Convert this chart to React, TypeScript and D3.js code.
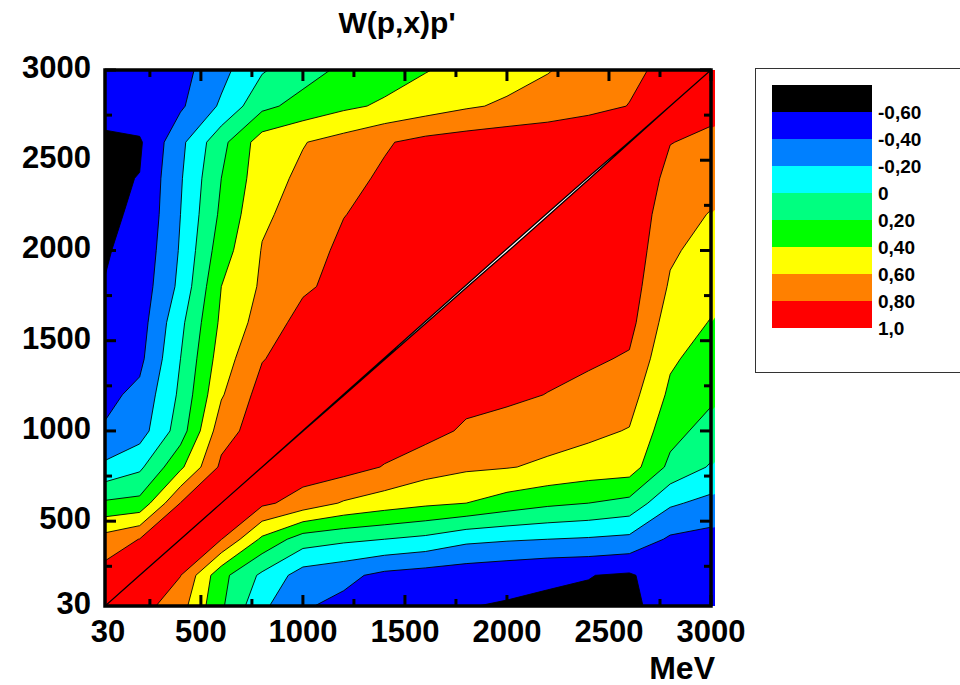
import React from "react";
import * as d3 from "d3";

// Momentum nodes (MeV) shared by both axes: p horizontally, p' vertically
const P_NODES = [30, 200, 400, 600, 800, 1000, 1200, 1400, 1600, 1800, 2000, 2200, 2400, 2600, 2800, 3000];

// W(p,x)p' on the node grid; row k is p' = P_NODES[k], column i is p = P_NODES[i]
const W_GRID: number[][] = [
  [1.0, 0.88, 0.68, 0.23, -0.16, -0.38, -0.45, -0.51, -0.55, -0.595, -0.612, -0.619, -0.629, -0.64, -0.52, -0.55],
  [0.88, 1.0, 0.805, 0.26, -0.04, -0.29, -0.35, -0.45, -0.49, -0.52, -0.55, -0.583, -0.595, -0.625, -0.47, -0.52],
  [0.68, 0.805, 1.0, 0.805, 0.36, 0.10, 0.04, 0.0, -0.05, -0.15, -0.18, -0.20, -0.22, -0.25, -0.43, -0.47],
  [0.23, 0.26, 0.805, 1.0, 0.84, 0.72, 0.58, 0.50, 0.44, 0.40, 0.31, 0.24, 0.20, 0.14, -0.17, -0.26],
  [-0.16, -0.04, 0.36, 0.84, 1.0, 0.90, 0.88, 0.79, 0.685, 0.63, 0.61, 0.57, 0.52, 0.50, 0.15, -0.02],
  [-0.38, -0.29, 0.10, 0.72, 0.90, 1.0003, 0.95, 0.90, 0.87, 0.77, 0.72, 0.67, 0.64, 0.59, 0.27, 0.12],
  [-0.45, -0.35, 0.04, 0.58, 0.88, 0.95, 1.0005, 0.96, 0.92, 0.86, 0.84, 0.795, 0.74, 0.68, 0.36, 0.24],
  [-0.51, -0.45, 0.0, 0.50, 0.79, 0.90, 0.96, 1.0007, 0.96, 0.91, 0.89, 0.86, 0.83, 0.78, 0.43, 0.31],
  [-0.55, -0.49, -0.05, 0.44, 0.685, 0.87, 0.92, 0.96, 1.001, 0.95, 0.93, 0.90, 0.88, 0.86, 0.50, 0.39],
  [-0.595, -0.52, -0.15, 0.40, 0.63, 0.77, 0.86, 0.91, 0.95, 1.0012, 0.96, 0.94, 0.92, 0.90, 0.575, 0.46],
  [-0.612, -0.55, -0.18, 0.31, 0.61, 0.72, 0.84, 0.89, 0.93, 0.96, 1.0015, 0.97, 0.95, 0.93, 0.63, 0.52],
  [-0.619, -0.583, -0.20, 0.24, 0.57, 0.67, 0.795, 0.86, 0.90, 0.94, 0.97, 1.0015, 0.97, 0.95, 0.68, 0.59],
  [-0.629, -0.595, -0.22, 0.20, 0.52, 0.64, 0.74, 0.83, 0.88, 0.92, 0.95, 0.97, 1.0012, 0.975, 0.74, 0.67],
  [-0.64, -0.625, -0.25, 0.14, 0.50, 0.59, 0.68, 0.78, 0.86, 0.90, 0.93, 0.95, 0.975, 1.0005, 0.805, 0.76],
  [-0.52, -0.47, -0.43, -0.17, 0.15, 0.27, 0.36, 0.43, 0.50, 0.575, 0.63, 0.68, 0.74, 0.805, 1.0, 0.85],
  [-0.55, -0.52, -0.47, -0.26, -0.02, 0.12, 0.24, 0.31, 0.39, 0.46, 0.52, 0.59, 0.67, 0.76, 0.85, 1.0],
];

// Contour levels; the band below the first level is the lowest colour
const LEVELS = [-0.6, -0.4, -0.2, 0, 0.2, 0.4, 0.6, 0.8];
const RIDGE_LEVEL = 1.0;
const BAND_COLORS = ["#000000", "#0000ff", "#0080ff", "#00ffff", "#00ff80", "#00ff00", "#ffff00", "#ff8000", "#ff0000"];
const LEGEND_LABELS = ["-0,60", "-0,40", "-0,20", "0", "0,20", "0,40", "0,60", "0,80", "1,0"];

const LABEL_TICKS = [30, 500, 1000, 1500, 2000, 2500, 3000];
const MAJOR_TICKS = [500, 1000, 1500, 2000, 2500, 3000];
const MINOR_TICKS = [250, 750, 1250, 1750, 2250, 2750];

const FONT = "'Liberation Sans', Arial, Helvetica, sans-serif";

export default function App() {
  const W = 960;
  const H = 685;
  const box = { left: 105, right: 711, top: 70, bottom: 606 };

  const x = d3.scaleLinear().domain([30, 3000]).range([box.left, box.right]);
  const y = d3.scaleLinear().domain([30, 3000]).range([box.bottom, box.top]);

  const n = P_NODES.length;
  // grid index -> MeV (piecewise linear over the node positions)
  const nodeToMev = d3.scaleLinear().domain(d3.range(n)).range(P_NODES).clamp(true);
  const proj = d3.geoTransform({
    point(cx: number, cy: number) {
      // @ts-ignore
      this.stream.point(x(nodeToMev(cx - 0.5)), y(nodeToMev(cy - 0.5)));
    },
  });
  const geo = d3.geoPath(proj);
  const bands = d3.contours().size([n, n]).thresholds(LEVELS)(W_GRID.flat());
  const bandPaths = bands.map((b) => geo(b as any) || "");

  // ridge along p = p': white where the value exceeds 1.0, outlined in black
  const ridgePts = P_NODES.map((v, i) => ({
    px: x(v),
    py: y(v),
    e: Math.max(0, W_GRID[i][i] - RIDGE_LEVEL),
  }));
  const ddx = ridgePts[n - 1].px - ridgePts[0].px;
  const ddy = ridgePts[n - 1].py - ridgePts[0].py;
  const len = Math.hypot(ddx, ddy);
  const nx = -ddy / len;
  const ny = ddx / len;
  const widthScale = 850;
  const sideA = ridgePts.map((p) => [p.px + nx * p.e * widthScale, p.py + ny * p.e * widthScale] as [number, number]);
  const sideB = ridgePts
    .map((p) => [p.px - nx * p.e * widthScale, p.py - ny * p.e * widthScale] as [number, number])
    .reverse();
  const ridgePath = (d3.line()([...sideA, ...sideB]) || "") + "Z";

  const legendX = 772;
  const legendY = 85;
  const swH = 27;
  const plotW = box.right - box.left;
  const plotH = box.bottom - box.top;

  const fills = (prefix: string) => (
    <>
      <rect x={box.left} y={box.top} width={plotW} height={plotH} fill={BAND_COLORS[0]} />
      {bandPaths.map((d, k) => (
        <path key={`${prefix}${k}`} d={d} fill={BAND_COLORS[k + 1]} stroke="none" />
      ))}
    </>
  );

  return (
    <svg
      width={W}
      height={H}
      viewBox={`0 0 ${W} ${H}`}
      style={{ position: "absolute", left: 0, top: 0, display: "block", background: "#ffffff" }}
    >
      <defs>
        <clipPath id="plotClip">
          <rect x={box.left} y={box.top} width={plotW} height={plotH} />
        </clipPath>
        <clipPath id="edgeClip">
          <rect x={box.right} y={box.top} width={5} height={plotH} />
        </clipPath>
      </defs>

      <text x={397} y={33} textAnchor="middle" fontFamily={FONT} fontWeight="bold" fontSize={30}>
        W(p,x)p'
      </text>

      {/* the filled bands spill a few pixels past the right frame */}
      <g clipPath="url(#edgeClip)">
        <g transform="translate(4,0)">{fills("e")}</g>
      </g>

      <g clipPath="url(#plotClip)">
        {fills("f")}
        {bandPaths.map((d, k) => (
          <path key={`s${k}`} d={d} fill="none" stroke="#000" strokeWidth={0.9} strokeLinejoin="round" />
        ))}
        <path d={ridgePath} fill="#ffffff" stroke="#000" strokeWidth={1.3} strokeLinejoin="round" />
      </g>

      {/* ticks on all four sides, pointing inward */}
      <g stroke="#000" strokeWidth={3}>
        {MAJOR_TICKS.map((t) => (
          <g key={`M${t}`}>
            <line x1={x(t)} x2={x(t)} y1={box.bottom} y2={box.bottom - 11} />
            <line x1={x(t)} x2={x(t)} y1={box.top} y2={box.top + 11} />
            <line x1={box.left} x2={box.left + 11} y1={y(t)} y2={y(t)} />
            <line x1={box.right} x2={box.right - 11} y1={y(t)} y2={y(t)} />
          </g>
        ))}
        {MINOR_TICKS.map((t) => (
          <g key={`m${t}`}>
            <line x1={x(t)} x2={x(t)} y1={box.bottom} y2={box.bottom - 7} />
            <line x1={x(t)} x2={x(t)} y1={box.top} y2={box.top + 7} />
            <line x1={box.left} x2={box.left + 7} y1={y(t)} y2={y(t)} />
            <line x1={box.right} x2={box.right - 7} y1={y(t)} y2={y(t)} />
          </g>
        ))}
      </g>
      <rect x={box.left} y={box.top} width={plotW} height={plotH} fill="none" stroke="#000" strokeWidth={3.5} />

      <g fontFamily={FONT} fontWeight="bold" fontSize={31} fill="#000">
        {LABEL_TICKS.map((t) => (
          <text key={`x${t}`} x={x(t) + (t === 30 ? 3 : 0)} y={642} textAnchor="middle">
            {t}
          </text>
        ))}
        {LABEL_TICKS.map((t) => (
          <text key={`y${t}`} x={91} y={y(t) + 8} textAnchor="end">
            {t}
          </text>
        ))}
      </g>
      <text x={715} y={679} textAnchor="end" fontFamily={FONT} fontWeight="bold" fontSize={32}>
        MeV
      </text>

      {/* legend */}
      <rect x={755.5} y={68.5} width={220} height={304} fill="#fff" stroke="#333" strokeWidth={1} />
      {BAND_COLORS.map((c, k) => (
        <rect key={`sw${k}`} x={legendX} y={legendY + k * swH} width={100} height={swH} fill={c} />
      ))}
      <g fontFamily={FONT} fontWeight="bold" fontSize={19} fill="#000">
        {LEGEND_LABELS.map((l, k) => (
          <text key={`ll${k}`} x={878} y={legendY + (k + 1) * swH + 7}>
            {l}
          </text>
        ))}
      </g>
    </svg>
  );
}
